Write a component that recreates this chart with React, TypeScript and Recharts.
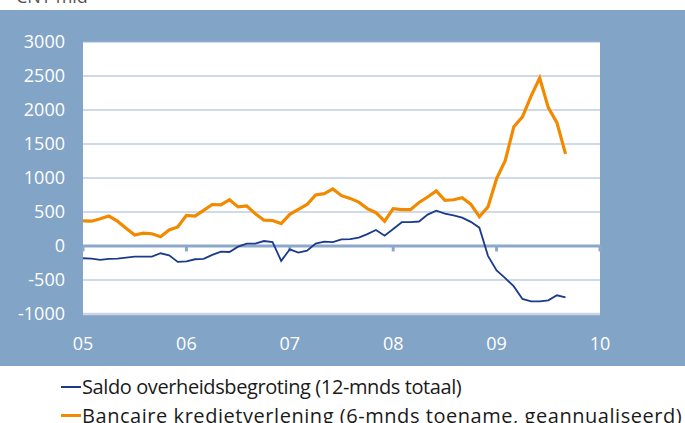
import { CartesianGrid, Line, LineChart, ReferenceLine, XAxis, YAxis } from "recharts";

const yearLabels = ["05", "06", "07", "08", "09", "10"];
const yearTicks = [0, 12, 24, 36, 48, 60];
const yTicks = [-1000, -500, 0, 500, 1000, 1500, 2000, 2500, 3000];

// monthly, jan 2005 .. sep 2009
const saldo = [
  -180, -185, -205, -190, -185, -170, -155, -155, -155, -107, -136, -234,
  -225, -195, -190, -131, -83, -88, -10, 35, 35, 73, 58, -219,
  -49, -97, -68, 35, 63, 58, 97, 100, 122, 175, 235, 152,
  250, 350, 350, 360, 462, 520, 477, 452, 418, 355, 270, -145,
  -360, -472, -594, -778, -813, -815, -799, -725, -755,
];
const krediet = [
  370, 365, 400, 440, 365, 260, 160, 190, 180, 135, 235, 280,
  450, 440, 525, 610, 605, 680, 575, 590, 475, 380, 375, 330,
  465, 540, 610, 750, 770, 840, 740, 700, 645, 550, 490, 365,
  550, 535, 535, 640, 720, 810, 670, 680, 710, 615, 430, 575,
  990, 1255, 1755, 1900, 2205, 2470, 2035, 1815, 1355,
];

const data = saldo.map((s, i) => ({ m: i, saldo: s, krediet: krediet[i] }));

const panel = "#82A4C6";
const blue = "#1B3A8C";
const orange = "#F28A00";
const font = "'Open Sans', sans-serif";
const tickStyle = { fill: "#ffffff", fontSize: 18, fontFamily: font };

export default function App() {
  return (
    <div style={{ position: "fixed", left: 0, top: 0, width: 685, height: 423, background: "#fff", overflow: "hidden" }}>
      <div style={{ position: "absolute", left: 16, top: -15, fontFamily: font, fontSize: 18, lineHeight: "22px", color: "#555" }}>CNY mld</div>
      <div style={{ position: "absolute", left: 0, top: 10, width: 685, height: 356, background: panel }} />
      <div style={{ position: "absolute", left: 0, top: 0 }}>
        <LineChart width={685} height={366} data={data} margin={{ top: 42, right: 0, bottom: 0, left: 0 }}>
          <CartesianGrid yAxisId="l" vertical={false} stroke="#9FB6D2" strokeWidth={1.2} fill="#ffffff" />
          <XAxis
            dataKey="m"
            type="number"
            domain={[0, 60]}
            ticks={yearTicks}
            tickFormatter={(v: number) => yearLabels[Math.round(v / 12)]}
            axisLine={false}
            tickLine={false}
            tickSize={0}
            tickMargin={23}
            height={52}
            tick={tickStyle}
            interval={0}
          />
          <YAxis
            yAxisId="l"
            orientation="left"
            domain={[-1000, 3000]}
            ticks={yTicks}
            width={83}
            axisLine={false}
            tickLine={false}
            tickSize={0}
            tickMargin={18}
            tick={tickStyle}
            interval={0}
          />
          <YAxis
            yAxisId="r"
            orientation="right"
            domain={[-1000, 3000]}
            ticks={yTicks}
            width={85}
            axisLine={false}
            tickLine={false}
            tickSize={0}
            tickMargin={17}
            tick={tickStyle}
            interval={0}
          />
          <ReferenceLine yAxisId="l" y={-1000} stroke="#C9D5E4" strokeWidth={2.5} />
          <ReferenceLine yAxisId="l" y={0} stroke="#8CA8C9" strokeWidth={3} />
          {yearTicks.map((t) => (
            <ReferenceLine
              key={t}
              yAxisId="l"
              segment={[{ x: t, y: 0 }, { x: t, y: -80 }]}
              stroke="#8CA8C9"
              strokeWidth={3}
            />
          ))}
          <Line yAxisId="l" type="linear" dataKey="saldo" stroke={blue} strokeWidth={1.8} dot={false} isAnimationActive={false} />
          <Line yAxisId="l" type="linear" dataKey="krediet" stroke={orange} strokeWidth={3.2} dot={false} isAnimationActive={false} />
        </LineChart>
      </div>
      <div style={{ position: "absolute", left: 61, top: 372, fontFamily: font, fontSize: 20, color: "#1a1a1a", lineHeight: "29px", whiteSpace: "nowrap" }}>
        <div style={{ display: "flex", alignItems: "center" }}>
          <span style={{ display: "inline-block", width: 20, height: 2, background: blue, marginRight: 1 }} />
          <span style={{ letterSpacing: -0.4 }}>Saldo overheidsbegroting (12-mnds totaal)</span>
        </div>
        <div style={{ display: "flex", alignItems: "center" }}>
          <span style={{ display: "inline-block", width: 20, height: 3, background: orange, marginRight: 1 }} />
          <span style={{ letterSpacing: 0.55 }}>Bancaire kredietverlening (6-mnds toename, geannualiseerd)</span>
        </div>
      </div>
    </div>
  );
}
